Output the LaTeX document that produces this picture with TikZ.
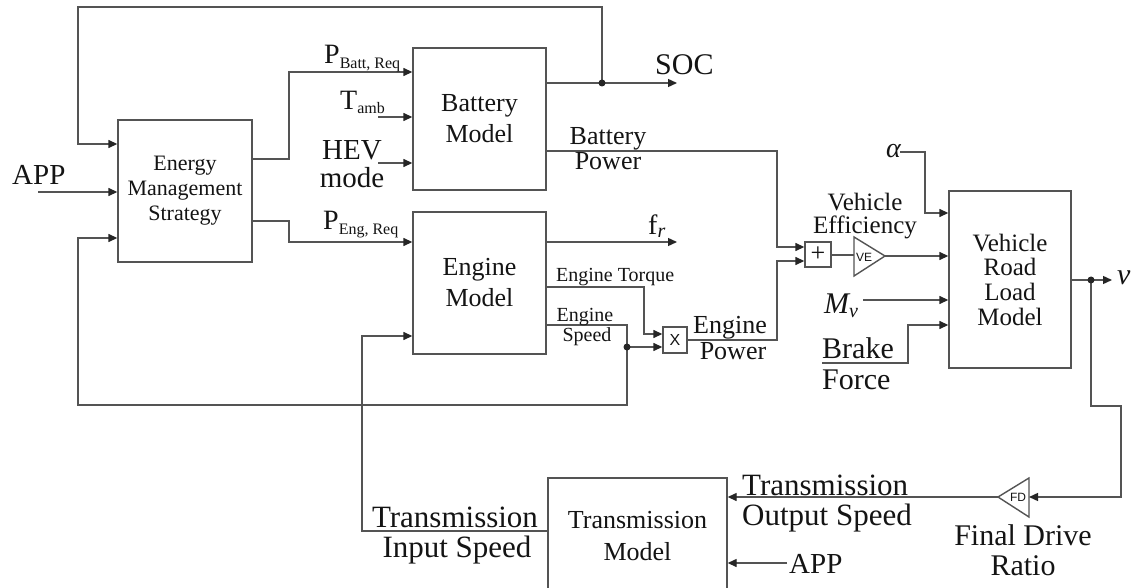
\documentclass[tikz,border=0pt]{standalone}
\usepackage{fontspec}
\setmainfont{Liberation Serif}
\newfontfamily\sansf{Liberation Sans}
\usetikzlibrary{arrows.meta}
\definecolor{linec}{gray}{0.33}
\definecolor{txtc}{gray}{0.08}
\newcommand{\fs}[1]{\fontsize{#1}{#1}\selectfont}
\newcommand{\fsl}[2]{\fontsize{#1}{#2}\selectfont}
\begin{document}
\begin{tikzpicture}[x=1pt,y=-1pt,
  ln/.style={draw=linec,line width=1.4pt},
  arr/.style={ln,-{Triangle[length=9pt,width=8pt,color=black!85]}},
  blk/.style={ln,text=txtc,align=center,inner sep=0pt},
  lbl/.style={text=txtc,inner sep=0pt},
  junc/.style={circle,fill=black!85,inner sep=0pt,minimum size=7pt}]
\useasboundingbox[fill=white] (0,0) rectangle (1141,588);

% ---------- blocks ----------
\node[blk,minimum width=134pt,minimum height=142pt,font=\fsl{22}{25}] (ems) at (185,191) {Energy\\Management\\Strategy};
\node[blk,minimum width=133pt,minimum height=142pt,font=\fsl{26}{31}] (bat) at (479.5,119) {Battery\\Model};
\node[blk,minimum width=133pt,minimum height=142pt,font=\fsl{26}{31}] (eng) at (479.5,283) {Engine\\Model};
\node[blk,minimum width=122pt,minimum height=177pt,font=\fsl{25}{24.7}] (vr) at (1010,279.5) {Vehicle\\Road\\Load\\Model};
\node[blk,minimum width=179pt,minimum height=116pt,font=\fsl{26}{32}] (tr) at (637.5,536) {Transmission\\Model};
\node[blk,minimum width=26pt,minimum height=25pt,font=\fs{26}] (sum) at (818,254.5) {+};
\node[blk,minimum width=24pt,minimum height=26pt,font=\sansf\fs{16}] (mul) at (675,340) {X};

% gain triangles
\coordinate (vel) at (854,255);
\coordinate (vetip) at (885,256);
\draw[ln] (854,237) -- (vetip) -- (854,276) -- cycle;
\node[lbl,font=\sansf\fs{12}] (vetxt) at (864,257) {VE};
\coordinate (fdr) at (1029,497);
\coordinate (fdtip) at (998,497);
\draw[ln] (1029,478) -- (fdtip) -- (1029,517) -- cycle;
\node[lbl,font=\sansf\fs{12}] (fdtxt) at (1018,497) {FD};

% ---------- connectors ----------
\coordinate (jsoc) at (602,83);
\coordinate (socend) at (677,83);
\draw[arr] (bat.east |- jsoc) -- (socend);
\draw[arr] (jsoc) -- (602,7) -- (78,7) -- (78,144) -- (ems.west |- 0,144);
\node[junc] (d1) at (jsoc) {};

\coordinate (appin) at (38,192);
\draw[arr] (appin) -- (ems.west |- appin);

\coordinate (jspd) at (627,347);
\draw[arr] (jspd) -- (627,405) -- (78,405) -- (78,238) -- (ems.west |- 0,238);

\draw[arr] (ems.east |- 0,159) -- (289,159) -- (289,72) -- (bat.west |- 0,72);
\draw[arr] (ems.east |- 0,221) -- (289,221) -- (289,242) -- (eng.west |- 0,242);
\coordinate (tambin) at (378,117);
\draw[arr] (tambin) -- (bat.west |- tambin);
\coordinate (hevin) at (378,163);
\draw[arr] (hevin) -- (bat.west |- hevin);

\draw[arr] (bat.east |- 0,151) -- (777,151) -- (777,247) -- (sum.west |- 0,247);
\coordinate (frend) at (677,242);
\draw[arr] (eng.east |- frend) -- (frend);
\draw[arr] (eng.east |- 0,287) -- (644,287) -- (644,334) -- (mul.west |- 0,334);
\draw[ln] (eng.east |- 0,325) -- (627,325) -- (jspd);
\draw[arr] (jspd) -- (mul.west |- jspd);
\node[junc] (d2) at (jspd) {};
\draw[arr] (mul.east) -- (777,340) -- (777,261) -- (sum.west |- 0,261);
\draw[ln] (sum.east |- vel) -- (vel);
\draw[arr] (vetip) -- (vr.west |- vetip);

\coordinate (alin) at (900,152);
\draw[arr] (alin) -- (925,152) -- (925,213) -- (vr.west |- 0,213);
\coordinate (mvin) at (863,300);
\draw[arr] (mvin) -- (vr.west |- mvin);
\coordinate (brin) at (822,363);
\draw[arr] (brin) -- (908,363) -- (908,325) -- (vr.west |- 0,325);

\coordinate (jv) at (1091,280);
\coordinate (vend) at (1112,280);
\draw[arr] (vr.east |- jv) -- (vend);
\draw[arr] (jv) -- (1091,406) -- (1121,406) -- (1121,497) -- (fdr);
\node[junc] (d3) at (jv) {};
\draw[arr] (fdtip) -- (tr.east |- fdtip);
\coordinate (app2) at (787,563);
\draw[arr] (app2) -- (tr.east |- app2);
\draw[arr] (tr.west |- 0,531) -- (362,531) -- (362,336) -- (eng.west |- 0,336);

% ---------- labels ----------
\node[lbl,anchor=base west,font=\fs{29}] (lapp) at (12,185) {APP};
\node[lbl,anchor=base west,font=\fs{28}] (lpb) at (324,64) {P\raisebox{-5pt}{\fs{16}Batt, Req}};
\node[lbl,anchor=base west,font=\fs{28}] (lta) at (340,110) {T\raisebox{-4pt}{\fs{16}amb}};
\node[lbl,anchor=base,font=\fs{29}] (lhev) at (352,160) {HEV};
\node[lbl,anchor=base,font=\fs{29}] (lmode) at (352,188) {mode};
\node[lbl,anchor=base west,font=\fs{28}] (lpe) at (323,230) {P\raisebox{-5pt}{\fs{16}Eng, Req}};
\node[lbl,anchor=base west,font=\fs{30}] (lsoc) at (655,75) {SOC};
\node[lbl,anchor=base,font=\fs{26}] (lbp1) at (608,145) {Battery};
\node[lbl,anchor=base,font=\fs{26}] (lbp2) at (608,170) {Power};
\node[lbl,anchor=base west,font=\fs{28}] (lfr) at (648,235) {f\raisebox{-3pt}{\fs{20}\itshape r}};
\node[lbl,anchor=base west,font=\fs{20}] (let) at (556,281) {Engine Torque};
\node[lbl,anchor=base,font=\fs{20}] (les1) at (585,321) {Engine};
\node[lbl,anchor=base,font=\fs{20}] (les2) at (587,341) {Speed};
\node[lbl,anchor=base,font=\fs{26}] (lep1) at (730,333) {Engine};
\node[lbl,anchor=base,font=\fs{26}] (lep2) at (733,359) {Power};
\node[lbl,anchor=base,font=\fs{25}] (lve1) at (865,211) {Vehicle};
\node[lbl,anchor=base,font=\fs{25}] (lve2) at (865,234) {Efficiency};
\node[lbl,anchor=base west,font=\fs{28}\itshape] (lal) at (886,158) {α};
\node[lbl,anchor=base west,font=\fs{30}] (lmv) at (824,313) {\itshape M\raisebox{-4pt}{\fs{20}\itshape v}};
\node[lbl,anchor=base west,font=\fs{30}] (lbf1) at (822,358) {Brake};
\node[lbl,anchor=base west,font=\fs{30}] (lbf2) at (822,389) {Force};
\node[lbl,anchor=base west,font=\fs{30}\itshape] (lv) at (1117,284) {v};
\node[lbl,anchor=base west,font=\fs{31}] (lto1) at (742,495) {Transmission};
\node[lbl,anchor=base west,font=\fs{31}] (lto2) at (742,525) {Output Speed};
\node[lbl,anchor=base,font=\fs{30}] (lfd1) at (1023,545) {Final Drive};
\node[lbl,anchor=base,font=\fs{30}] (lfd2) at (1023,575) {Ratio};
\node[lbl,anchor=base west,font=\fs{29}] (lapp2) at (789,573) {APP};
\node[lbl,anchor=base,font=\fs{31}] (lti1) at (455,527) {Transmission};
\node[lbl,anchor=base,font=\fs{31}] (lti2) at (457,557) {Input Speed};
\end{tikzpicture}
\end{document}
